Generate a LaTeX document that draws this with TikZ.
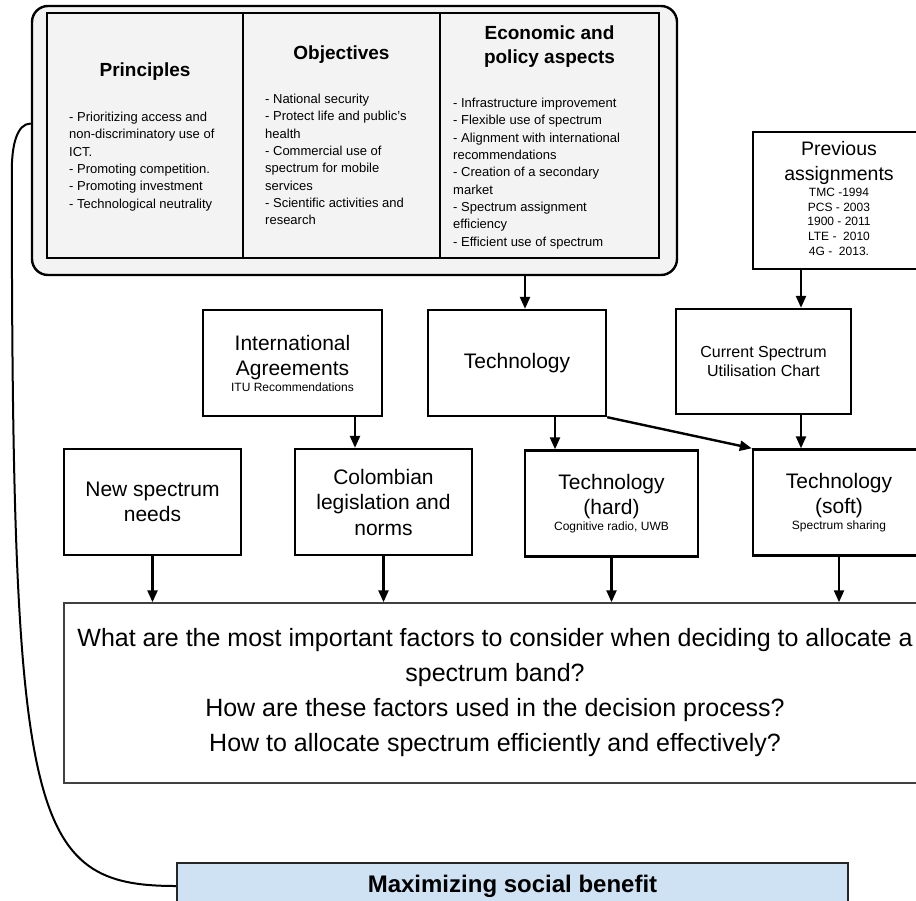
\documentclass[tikz,border=0pt]{standalone}
\usepackage{fontspec}
\setmainfont{Liberation Sans}
\usetikzlibrary{arrows.meta}
\definecolor{panelgray}{HTML}{F3F3F3}
\definecolor{benefitblue}{HTML}{CFE2F3}
\newcommand\boxfont{\fontsize{21}{25.5}\selectfont}
\newcommand\notefont{\fontsize{12}{14.7}\selectfont}
\tikzset{
  frame/.style={draw,line width=2.4pt,rounded corners=16pt,fill=panelgray,minimum width=645pt,minimum height=269pt},
  col/.style={draw,line width=2.4pt,fill=panelgray,minimum height=245pt},
  head/.style={font=\fontsize{19}{24}\selectfont\bfseries,align=center,inner sep=0pt},
  items/.style={font=\fontsize{13}{17.3}\selectfont,align=left,anchor=north west,inner sep=0pt},
  box/.style={draw,line width=2.4pt,fill=white,align=center,font=\boxfont,minimum width=177pt,minimum height=106pt,inner sep=2pt},
  flow/.style={line width=2.4pt,-{Triangle[length=12pt,width=10pt]}},
  link/.style={line width=2pt}
}

\begin{document}
\begin{tikzpicture}[x=1pt,y=-1pt]
              \useasboundingbox (0,0) rectangle (916,900);
              \clip (0,0) rectangle (916,900);
              %\draw[help lines,step=50] (0,0) grid (916,900);

              \node[frame] (frame) at (354.5,140.5) {};
              \node[col,minimum width=196pt] (princ) at (145,135.5) {};
              \node[col,minimum width=197pt] (obj) at (341.5,135.5) {};
              \node[col,minimum width=219pt] (econ) at (549.5,135.5) {};

              \node[head] (princ-head) at (145,72) {Principles};
              \node[head] (obj-head) at (341.5,55) {Objectives};
              \node[head] (econ-head) at (549.5,47) {Economic and\\policy aspects};

              \node[items] (princ-items) at (69,112) {- Prioritizing access and\\non-discriminatory use of\\ICT.\\- Promoting competition.\\- Promoting investment\\- Technological neutrality};
              \node[items] (obj-items) at (265,94) {- National security\\- Protect life and public’s\\health\\- Commercial use of\\spectrum for mobile\\services\\- Scientific activities and\\research};
              \node[items] (econ-items) at (453,98) {- Infrastructure improvement\\- Flexible use of spectrum\\- Alignment with international\\recommendations\\- Creation of a secondary\\market\\- Spectrum assignment\\efficiency\\- Efficient use of spectrum};

              \node[box,minimum width=172pt,minimum height=137pt,font=\fontsize{19.5}{25}\selectfont] (prev) at (839,200.5)
                {Previous\\assignments\\[-9pt]{\notefont\begin{tabular}[t]{@{}c@{}}TMC -1994\\PCS - 2003\\1900 - 2011\\LTE -\ \ 2010\\4G -\ \ 2013.\end{tabular}}};

              \node[box,minimum width=179pt] (intl) at (292.5,363) {International\\Agreements\\[-10pt]{\notefont ITU Recommendations}};
              \node[box,minimum width=178pt] (tech) at (517,363) {Technology};
              \node[box,minimum width=175pt,minimum height=105pt,font=\fontsize{16}{19}\selectfont] (chart) at (763.5,361.5) {Current Spectrum\\Utilisation Chart};

              \node[box] (needs) at (152.5,502) {New spectrum\\needs};
              \node[box] (law) at (383.5,502) {Colombian\\legislation and\\norms};
              \node[box,minimum width=173pt] (hard) at (611.5,503.5) {Technology\\(hard)\\[-10pt]{\notefont Cognitive radio, UWB}};
              \node[box,minimum width=172pt] (soft) at (839,502.5) {Technology\\(soft)\\[-10pt]{\notefont Spectrum sharing}};

              \node[box,line width=1.5pt,draw=black!75,minimum width=862pt,minimum height=180pt,font=\fontsize{25}{35}\selectfont] (question) at (495,693)
                {What are the most important factors to consider when deciding to allocate a\\spectrum band?\\How are these factors used in the decision process?\\How to allocate spectrum efficiently and effectively?};

              \node[box,line width=2pt,draw=black!85,fill=benefitblue,minimum width=671pt,minimum height=46pt,font=\fontsize{24}{28}\selectfont\bfseries] (benefit) at (512.5,886) {Maximizing social benefit};

              \path ([xshift=8pt]tech.north) coordinate (tech-in);
              \path ([xshift=38pt]tech.south) coordinate (tech-out);
              \path ([xshift=-38pt]prev.south) coordinate (prev-out);
              \path ([xshift=-28.5pt]law.north) coordinate (law-in);

              \draw[flow] (tech-in |- frame.south) -- (tech-in);
              \draw[flow] (prev-out) -- (prev-out |- chart.north);
              \draw[flow] (prev-out |- chart.south) -- (prev-out |- soft.north);
              \draw[flow] (law-in |- intl.south) -- (law-in);
              \draw[flow] (tech-out) -- (tech-out |- hard.north);
              \draw[flow] (tech.south east) -- (soft.north west);
              \foreach \src in {needs,law,hard,soft}
                {\draw[flow] (\src.south) -- (\src.south |- question.north);}

              \draw[link] ([yshift=17pt]frame.west) .. controls +(-14,0) and +(0,-25) .. ++(-19,47)
                .. controls +(0,650) and +(-147,0) .. (benefit.west);
\end{tikzpicture}
\end{document}
